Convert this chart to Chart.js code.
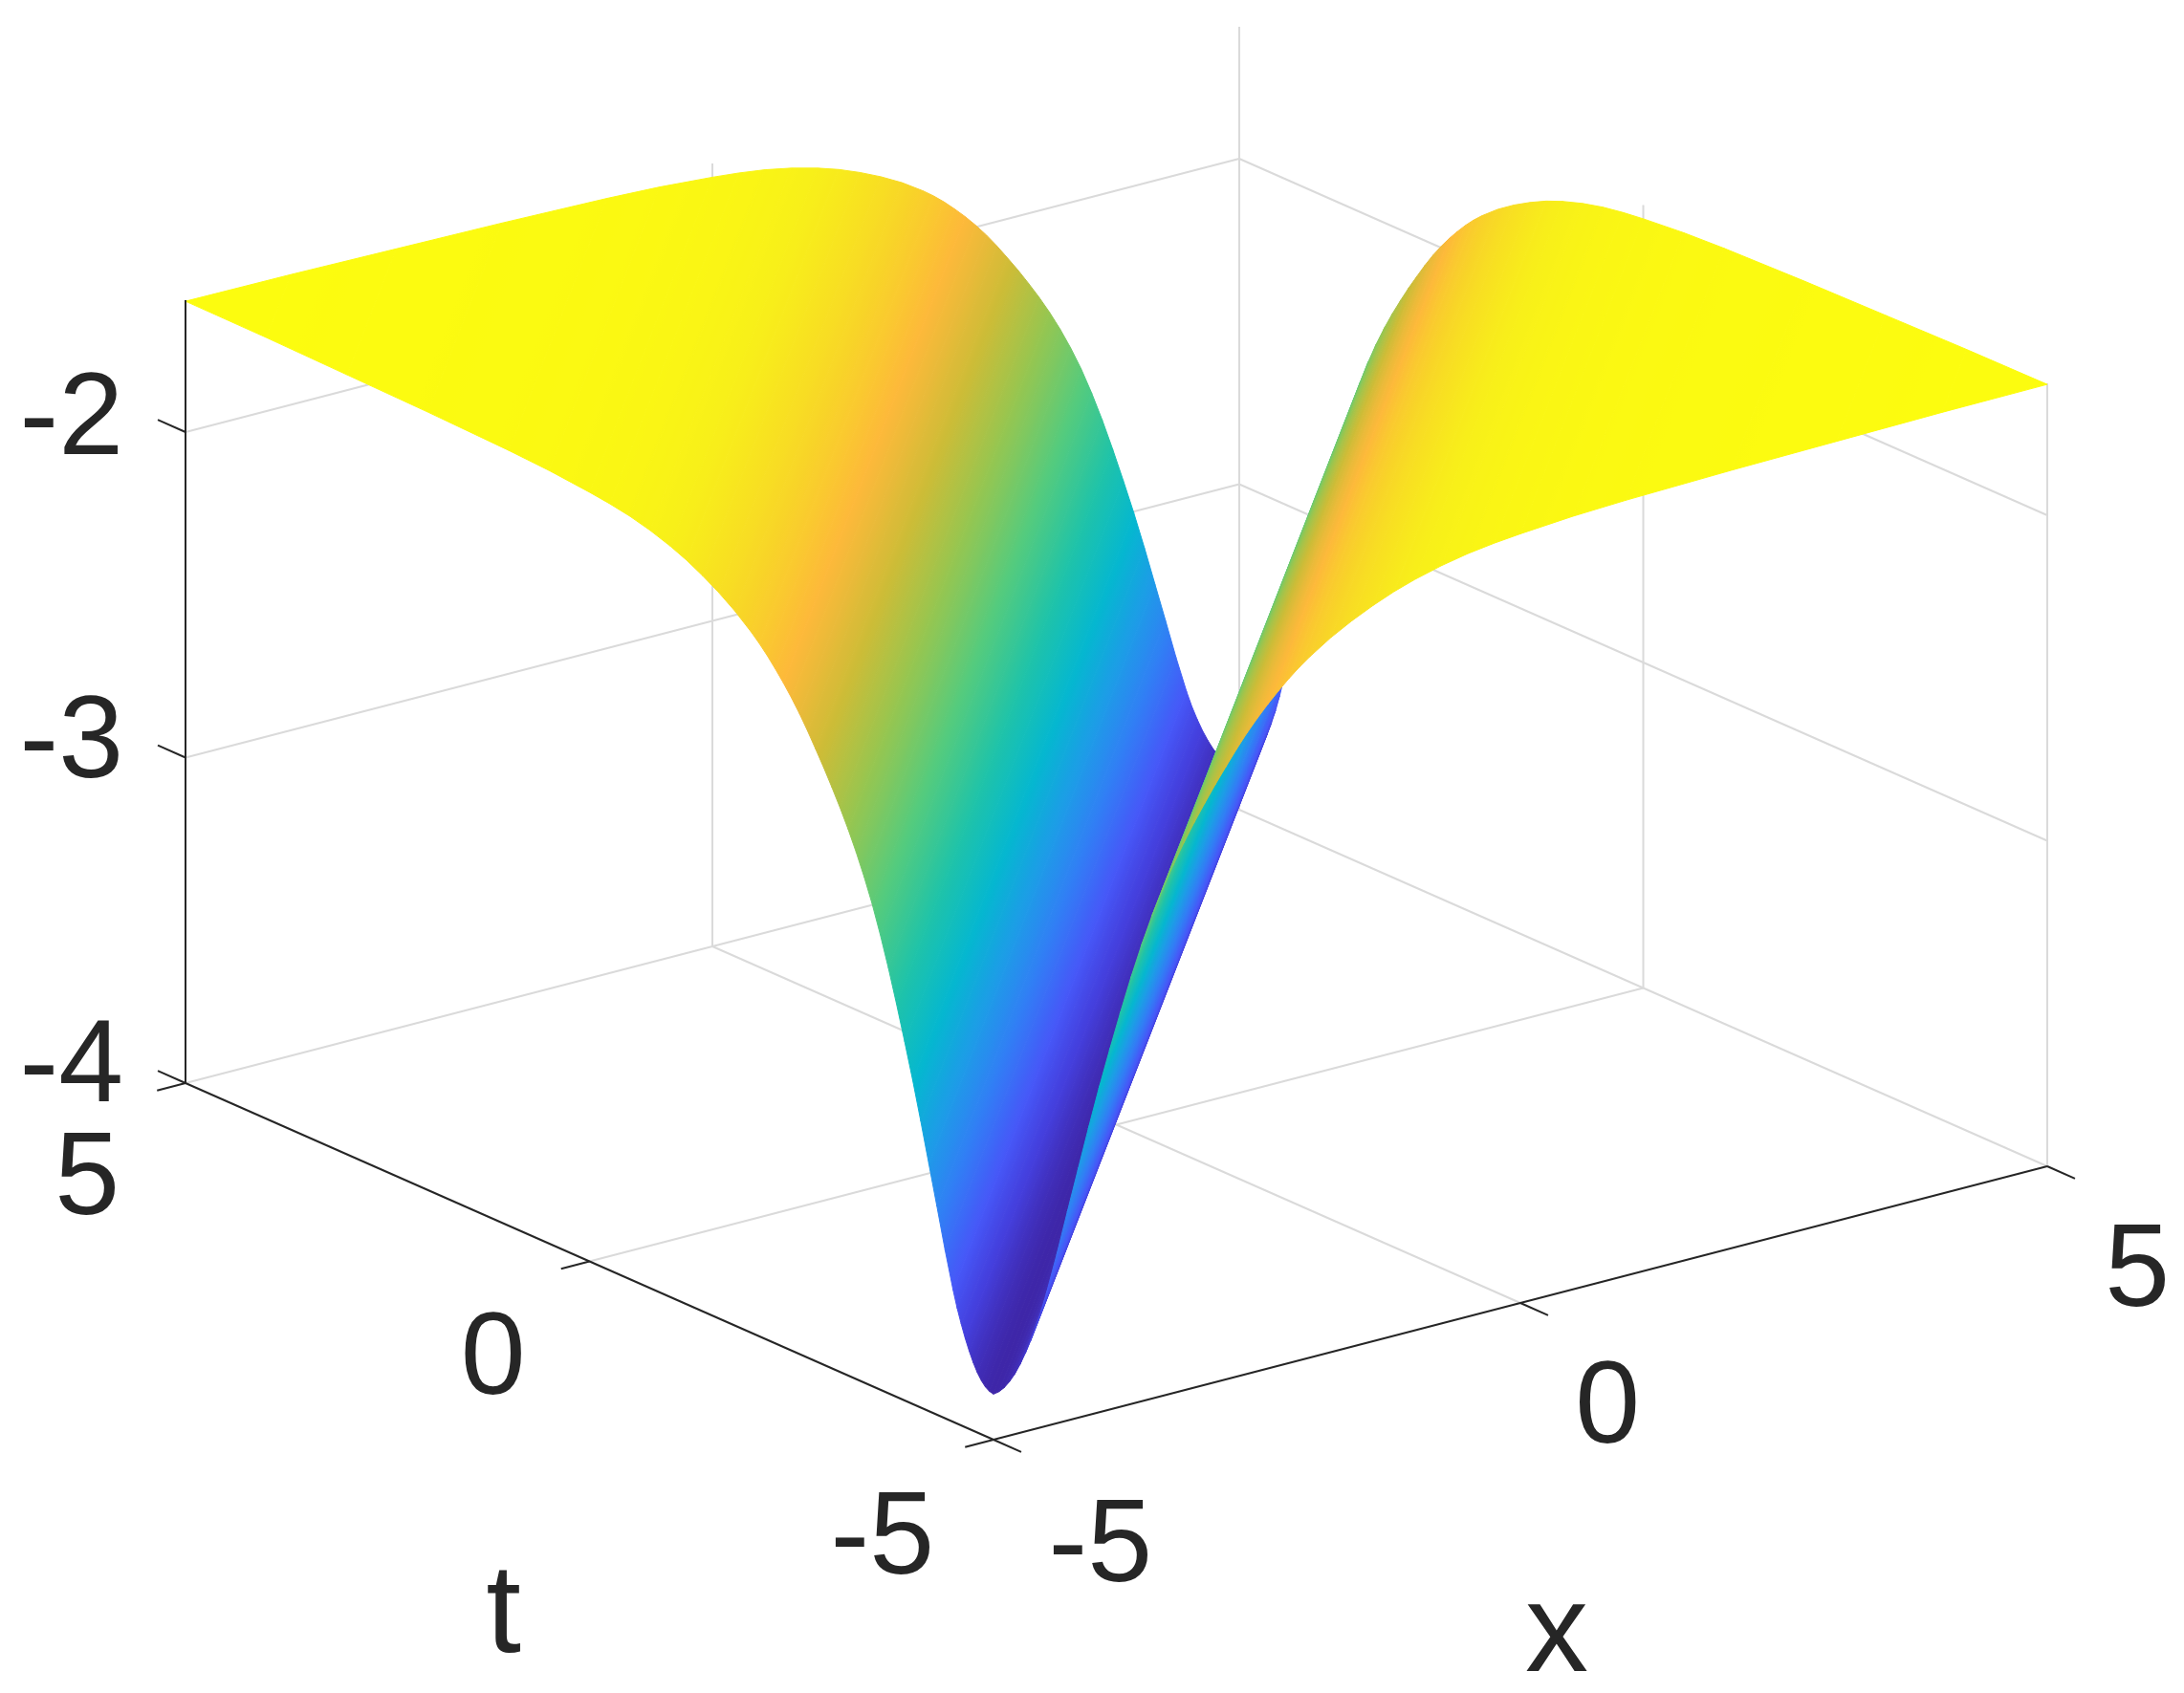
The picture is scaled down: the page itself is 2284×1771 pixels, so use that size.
<!DOCTYPE html>
<html>
<head>
<meta charset="utf-8">
<title>surface</title>
<script src="https://cdn.jsdelivr.net/npm/chart.js@4"></script>
<style>
    html, body { margin: 0; padding: 0; background: #fff; }
    canvas { display: block; }
</style>
</head>
<body>
<canvas id="myChart" width="2284" height="1771"></canvas>
<script>
/*----------- data --------------------------------- */
const xTicks = [-5, 0, 5];
const tTicks = [-5, 0, 5];
const zTicks = [-4, -3, -2];
const zTop = -1.595;

// the surface only depends on the distance from the trough, x - t
const troughOffset = [0, 0.05, 0.1, 0.15, 0.2, 0.25, 0.3, 0.35, 0.4, 0.45, 0.5, 0.6, 0.7, 0.8, 0.9, 1, 1.1, 1.2, 1.3, 1.4, 1.5, 1.6, 1.7, 1.8, 1.9, 2, 2.1, 2.2, 2.3, 2.4, 2.5, 2.6, 2.7, 2.8, 2.9, 3, 3.2, 3.4, 3.6, 3.8, 4, 4.25, 4.5, 4.75, 5, 5.5, 6, 7, 8, 9, 10];
const troughHeight = [-3.86, -3.857, -3.849, -3.835, -3.816, -3.791, -3.761, -3.727, -3.688, -3.645, -3.595, -3.482, -3.36, -3.24, -3.12, -3.005, -2.897, -2.793, -2.694, -2.603, -2.52, -2.447, -2.381, -2.321, -2.266, -2.215, -2.166, -2.12, -2.075, -2.033, -1.995, -1.96, -1.928, -1.898, -1.871, -1.847, -1.805, -1.77, -1.74, -1.714, -1.693, -1.672, -1.656, -1.645, -1.637, -1.625, -1.618, -1.61, -1.605, -1.6, -1.598];

const parula = [
    [0, 62, 38, 168], [0.06, 68, 62, 220], [0.12, 70, 88, 248], [0.2, 50, 125, 245],
    [0.28, 30, 155, 232], [0.37, 5, 183, 208], [0.47, 30, 195, 170], [0.58, 85, 203, 125],
    [0.68, 150, 198, 80], [0.76, 205, 188, 55], [0.84, 253, 185, 58], [0.9, 248, 212, 40],
    [0.96, 248, 240, 25], [1, 252, 252, 15]
];

/*----------- view ------------ */
// parallel projection of the box, measured from its corners
const viewOrigin = [1039, 1506];
const viewX = [110.2, -28.6];
const viewT = [-84.5, -37.3];
const viewZ = 340.5;

function project(x, t, z) {
    return {
        x: viewOrigin[0] + (x + 5) * viewX[0] + (t + 5) * viewT[0],
        y: viewOrigin[1] + (x + 5) * viewX[1] + (t + 5) * viewT[1] - (z + 4) * viewZ
    };
}

function zColor(z, lo, hi) {
    const v = Math.min(1, Math.max(0, (z - lo) / (hi - lo)));
    for (let i = 1; i < parula.length; i++) {
        if (v <= parula[i][0]) {
            const a = parula[i - 1], b = parula[i];
            const k = (v - a[0]) / (b[0] - a[0]);
            return 'rgb(' + [1, 2, 3].map(c => Math.round(a[c] + (b[c] - a[c]) * k)).join(',') + ')';
        }
    }
    return 'rgb(252,252,15)';
}

/*----------- surface strips ------------ */
const stripS = troughOffset.slice(1).reverse().map(v => -v).concat(troughOffset);
const stripZ = troughHeight.slice(1).reverse().concat(troughHeight);
const zMin = Math.min(...troughHeight);
const zMax = Math.max(...troughHeight);

// both ends of the line x - t = s on the square
function sLine(s, z) {
    if (s >= 0) return [project(-5 + s, -5, z), project(5, 5 - s, z)];
    return [project(-5, -5 - s, z), project(5 + s, 5, z)];
}

function stripFill(i) {
    return function (context) {
        const chart = context.chart;
        const sx = chart.scales.x, sy = chart.scales.y;
        const a = sLine(stripS[i], stripZ[i])[0];
        const b = sLine(stripS[i + 1], stripZ[i + 1])[0];
        const ax = sx.getPixelForValue(a.x), ay = sy.getPixelForValue(a.y);
        const bx = sx.getPixelForValue(b.x), by = sy.getPixelForValue(b.y);
        // scales have no size yet on the first pass, before layout
        if (![ax, ay, bx, by].every(Number.isFinite)) return zColor(stripZ[i], zMin, zMax);
        // gradient runs square to the lines, which are all parallel on screen
        const dirX = viewX[0] + viewT[0], dirY = viewX[1] + viewT[1];
        const len = Math.hypot(dirX, dirY);
        const nx = -dirY / len, ny = dirX / len;
        const d = (bx - ax) * nx + (by - ay) * ny;
        const g = chart.ctx.createLinearGradient(ax, ay, ax + nx * d, ay + ny * d);
        const n = 6;
        for (let k = 0; k <= n; k++) {
            const z = stripZ[i] + (stripZ[i + 1] - stripZ[i]) * k / n;
            g.addColorStop(k / n, zColor(z, zMin, zMax));
        }
        return g;
    };
}

const painted = [];

function addLine(points, color, width) {
    painted.push({
        data: points,
        showLine: true,
        fill: false,
        borderColor: color,
        borderWidth: width,
        pointRadius: 0,
        tension: 0
    });
}

/*----------- back walls and floor grid ------------ */
const gridColor = '#dadada';
zTicks.forEach(z => {
    addLine([project(-5, 5, z), project(5, 5, z), project(5, -5, z)], gridColor, 2);
});
xTicks.slice(1, 2).forEach(x => {
    addLine([project(x, -5, -4), project(x, 5, -4), project(x, 5, zTop)], gridColor, 2);
});
tTicks.slice(1, 2).forEach(t => {
    addLine([project(-5, t, -4), project(5, t, -4), project(5, t, zTop)], gridColor, 2);
});
addLine([project(5, 5, -4), project(5, 5, zTop)], gridColor, 2);
addLine([project(5, -5, -4), project(5, -5, zTop)], gridColor, 2);

/*----------- surface, low s first so the nearer strips cover it ------------ */
for (let i = 0; i < stripS.length - 1; i++) {
    const a = sLine(stripS[i], stripZ[i]);
    const b = sLine(stripS[i + 1], stripZ[i + 1]);
    const fillFn = stripFill(i);
    painted.push({
        data: [a[0], a[1], b[1], b[0], a[0]],
        showLine: true,
        fill: 'shape',
        backgroundColor: fillFn,
        borderColor: fillFn,
        borderWidth: 1,
        pointRadius: 0,
        tension: 0
    });
}

/*----------- axes and ticks ------------ */
const axisColor = '#262626';
const tickX = 0.27, tickT = 0.343;
addLine([project(-5, 5, -4), project(-5, 5, zTop)], axisColor, 2);
addLine([project(-5, 5, -4), project(-5, -5, -4)], axisColor, 2);
addLine([project(-5, -5, -4), project(5, -5, -4)], axisColor, 2);
zTicks.forEach(z => addLine([project(-5, 5, z), project(-5, 5 + tickT, z)], axisColor, 2));
tTicks.forEach(t => addLine([project(-5, t, -4), project(-5 - tickX, t, -4)], axisColor, 2));
xTicks.forEach(x => addLine([project(x, -5, -4), project(x, -5 - tickT, -4)], axisColor, 2));

/*----------- text ------------ */
const tickFont = '122px "Liberation Sans", Arial, sans-serif';
const titleFont = '132px "Liberation Sans", Arial, sans-serif';

const textPlugin = {
    id: 'boxText',
    afterDraw(chart) {
        const ctx = chart.ctx;
        const put = (str, at, dx, dy, font, align) => {
            ctx.font = font;
            ctx.textAlign = align;
            ctx.textBaseline = 'alphabetic';
            ctx.fillStyle = axisColor;
            ctx.fillText(str, chart.scales.x.getPixelForValue(at.x) + dx, chart.scales.y.getPixelForValue(at.y) + dy);
        };
        const zDy = [19, 20, 23];
        zTicks.forEach((z, i) => put(String(z), project(-5, 5, z), -65, zDy[i], tickFont, 'right'));
        const tDx = [-62, -67, -69], tDy = [140, 138, 137];
        tTicks.forEach((t, i) => put(String(t), project(-5, t, -4), tDx[i], tDy[i], tickFont, 'right'));
        const xDx = [166, 125, 128], xDy = [148, 146, 146];
        xTicks.forEach((x, i) => put(String(x), project(x, -5, -4), xDx[i], xDy[i], tickFont, 'right'));
        put('t', project(-5, 0, -4), -90, 408, titleFont, 'center');
        put('x', project(0, -5, -4), 38, 385, titleFont, 'center');
    }
};

/*----------- chart ------------ */
const config = {
    type: 'scatter',
    data: { datasets: painted.slice().reverse() },  // chart.js paints the first dataset last
    options: {
        responsive: false,
        animation: false,
        layout: { padding: 0 },
        plugins: { legend: { display: false }, tooltip: { enabled: false } },
        elements: { line: { borderCapStyle: 'butt', borderJoinStyle: 'round' } },
        scales: {
            x: { type: 'linear', display: false, min: 0, max: 2284 },
            y: { type: 'linear', display: false, min: 0, max: 1771, reverse: true }
        }
    },
    plugins: [textPlugin]
};

const myChart = new Chart(document.getElementById('myChart'), config);
</script>
</body>
</html>
